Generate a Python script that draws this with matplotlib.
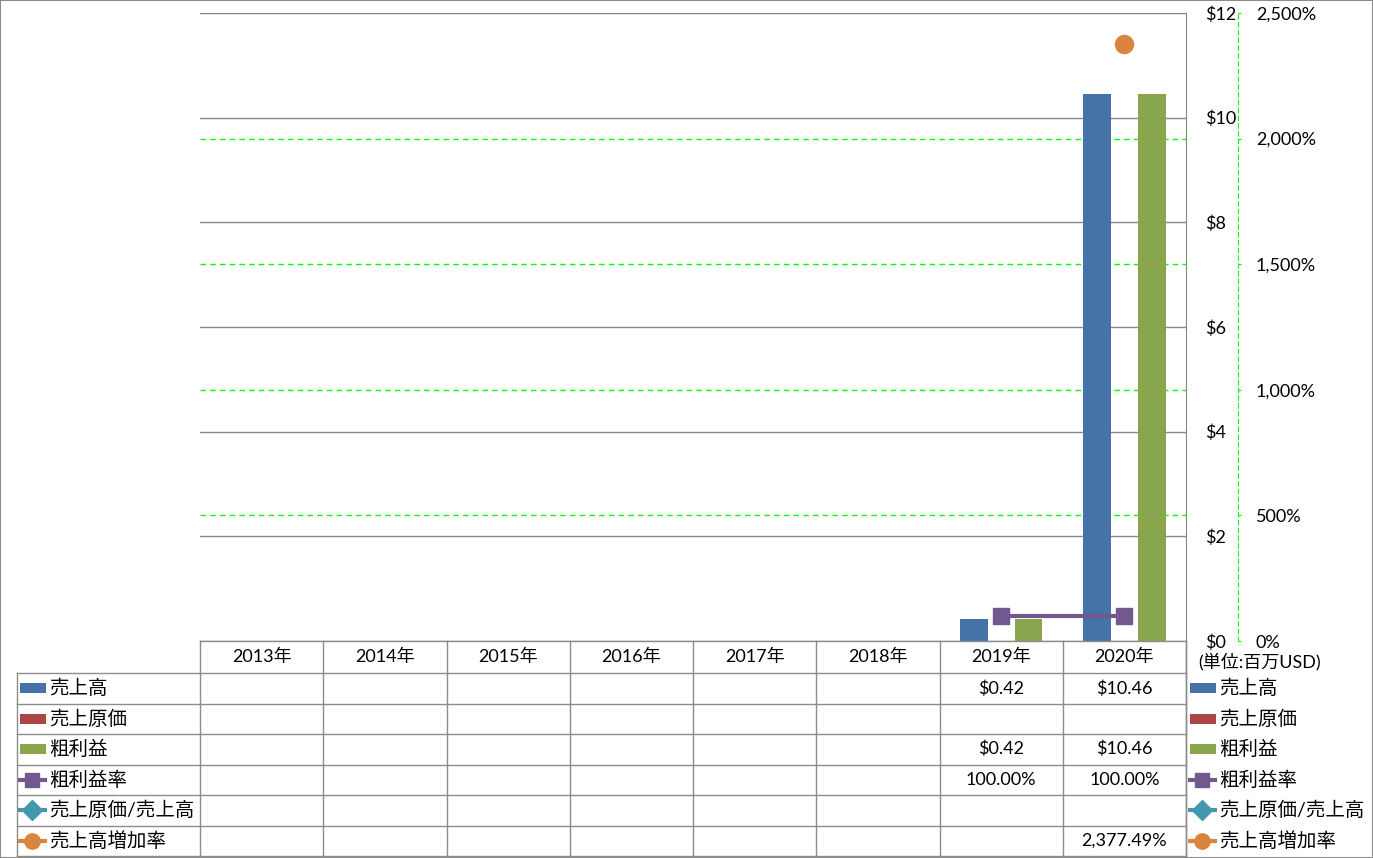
import numpy as np
import matplotlib
matplotlib.use("Agg")
import matplotlib.pyplot as plt
from matplotlib.lines import Line2D
from matplotlib.patches import Rectangle
from matplotlib.transforms import blended_transform_factory
from matplotlib.ticker import FuncFormatter

plt.rcParams['font.family'] = ['Lato', 'Noto Sans CJK JP', 'DejaVu Sans']

# データ (単位: 百万USD)
years = ['2013年', '2014年', '2015年', '2016年', '2017年', '2018年', '2019年', '2020年']
nan = np.nan
sales = [nan, nan, nan, nan, nan, nan, 0.42, 10.46]          # 売上高
cogs = [nan, nan, nan, nan, nan, nan, nan, nan]              # 売上原価
gross = [nan, nan, nan, nan, nan, nan, 0.42, 10.46]          # 粗利益
margin = [nan, nan, nan, nan, nan, nan, 100.00, 100.00]      # 粗利益率 (%)
cost_ratio = [nan, nan, nan, nan, nan, nan, nan, nan]        # 売上原価/売上高 (%)
growth = [nan, nan, nan, nan, nan, nan, nan, 2377.49]        # 売上高増加率 (%)

c_blue = '#4572A7'
c_red = '#AA4643'
c_green = '#89A54E'
c_purple = '#71588F'
c_teal = '#4198AF'
c_orange = '#DB843D'
grid_gray = '#868686'
line_gray = '#8c8c8c'
dash_green = '#00ff00'

W, H = 1373, 858
PT = 72 / 100  # px -> pt
fig = plt.figure(figsize=(W / 100, H / 100), dpi=100)
ax = fig.add_axes([200 / W, 1 - 641 / H, 986 / W, 628 / H])
ax2 = ax.twinx()

x = np.arange(len(years))
bw = 0.225
ax.bar(x - 0.222, sales, bw, color=c_blue, zorder=2)
ax.bar(x, cogs, bw, color=c_red, zorder=2)
ax.bar(x + 0.222, gross, bw, color=c_green, zorder=2)

ax.set_xlim(-0.5, len(years) - 0.5)
ax.set_ylim(0, 12)
ax.set_yticks(range(0, 13, 2))
ax.yaxis.tick_right()
ax.yaxis.set_major_formatter(FuncFormatter(lambda v, p: '${:.0f}'.format(v)))
ax.tick_params(axis='y', length=0, pad=19 * PT, labelsize=13)
ax.set_xticks([])
ax.grid(axis='y', color=grid_gray, lw=1, zorder=0.5)
ax.set_axisbelow(True)
for s in ['top', 'left', 'bottom']:
    ax.spines[s].set_visible(False)
ax.spines['right'].set_color(grid_gray)

ax2.set_ylim(0, 2500)
ax2.set_yticks(range(0, 2501, 500))
ax2.yaxis.set_major_formatter(FuncFormatter(lambda v, p: '{:,.0f}%'.format(v)))
ax2.spines['right'].set_position(('outward', 52 * PT))
ax2.spines['right'].set_color(dash_green)
ax2.spines['right'].set_linestyle((0, (4, 3)))
for s in ['top', 'left', 'bottom']:
    ax2.spines[s].set_visible(False)
ax2.tick_params(axis='y', length=3 * PT, color=dash_green, pad=15 * PT, labelsize=13)

# 第2軸の目盛線 (棒の後ろ)
tr_grid = blended_transform_factory(ax.transAxes, ax2.transData)
for v in ax2.get_yticks()[1:-1]:
    ax.plot([0, 1], [v, v], transform=tr_grid, color=dash_green, lw=1,
            ls=(0, (4, 3)), zorder=0.6)

ax2.plot(x, margin, color=c_purple, lw=3, marker='s', ms=11.5, clip_on=False)
ax2.plot(x, cost_ratio, color=c_teal, lw=3, marker='D', ms=10, clip_on=False)
ax2.plot(x, growth, color=c_orange, lw=3, marker='o', ms=13, clip_on=False)

# データテーブル
def fy(py):
    return 1 - py / H

tr = blended_transform_factory(ax.transData, fig.transFigure)
x_right = ax.get_position().x1
row_edges = [641, 673, 703.5, 734, 764.5, 795, 825.5, 856]

fig.add_artist(Line2D([200 / W, x_right], [fy(641)] * 2, color=line_gray, lw=1))
for py in row_edges[1:]:
    fig.add_artist(Line2D([17 / W, x_right], [fy(py)] * 2, color=line_gray, lw=1))
fig.add_artist(Line2D([17 / W] * 2, [fy(673), fy(856)], color=line_gray, lw=1))
for i in range(len(years) + 1):
    fig.add_artist(Line2D([i - 0.5] * 2, [fy(641), fy(856)], transform=tr,
                          color=line_gray, lw=1))

for i, yr in enumerate(years):
    fig.text(i, fy(657), yr, transform=tr, ha='center', va='center', fontsize=13)

def money(v):
    return '' if np.isnan(v) else '${:,.2f}'.format(v)

def pct(v):
    return '' if np.isnan(v) else '{:,.2f}%'.format(v)

rows = [
    ('売上高', [money(v) for v in sales], 'bar', c_blue, None),
    ('売上原価', [money(v) for v in cogs], 'bar', c_red, None),
    ('粗利益', [money(v) for v in gross], 'bar', c_green, None),
    ('粗利益率', [pct(v) for v in margin], 'line', c_purple, 's'),
    ('売上原価/売上高', [pct(v) for v in cost_ratio], 'line', c_teal, 'D'),
    ('売上高増加率', [pct(v) for v in growth], 'line', c_orange, 'o'),
]

def legend_key(x0, yc, kind, color, marker):
    if kind == 'bar':
        fig.add_artist(Rectangle(((x0 + 3) / W, fy(yc + 5)), 26 / W, 10 / H,
                                 transform=fig.transFigure, color=color, lw=0))
    else:
        fig.add_artist(Line2D([(x0 + 1) / W, (x0 + 30) / W], [fy(yc)] * 2, color=color,
                              lw=3, solid_capstyle='butt'))
        ms = {'s': 10, 'D': 10.5, 'o': 11}[marker]
        fig.add_artist(Line2D([(x0 + 15) / W], [fy(yc)], color=color,
                              marker=marker, ms=ms, lw=0))

for r, (name, cells, kind, color, marker) in enumerate(rows):
    yc = (row_edges[r + 1] + row_edges[r + 2]) / 2
    legend_key(17, yc, kind, color, marker)
    fig.text(49 / W, fy(yc), name, ha='left', va='center', fontsize=14)
    for i, s in enumerate(cells):
        if s:
            fig.text(i, fy(yc), s, transform=tr, ha='center', va='center', fontsize=13)
    legend_key(1187, yc, kind, color, marker)
    fig.text(1219 / W, fy(yc), name, ha='left', va='center', fontsize=14)

fig.text(1260 / W, fy(662), '(単位:百万USD)', ha='center', va='center', fontsize=13)

fig.add_artist(Line2D([x_right] * 2, [fy(641), fy(856)], color=line_gray, lw=1))
fig.add_artist(Rectangle((0, 0), 1, 1, transform=fig.transFigure, fill=False,
                         edgecolor=line_gray, lw=1.5))

fig.savefig('out.png', dpi=100)
